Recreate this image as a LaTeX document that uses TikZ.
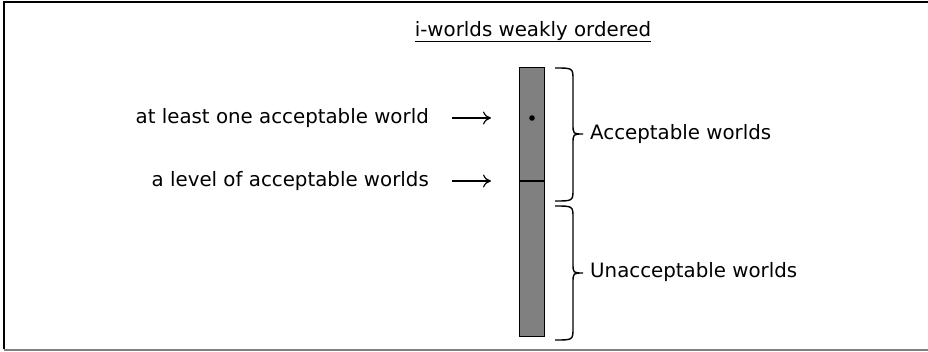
\documentclass[tikz,border=0pt]{standalone}
\usepackage{fontspec}
\setmainfont{DejaVu Sans}
\usetikzlibrary{arrows.meta}
\begin{document}
\begin{tikzpicture}[x=1pt,y=-1pt,
  lbl/.style={font=\fontsize{19.8}{23}\selectfont, inner sep=0pt},
  brc/.style={line width=1.4pt},
  arr/.style={-{To[length=8pt,width=13pt]}, line width=1.2pt}]
\useasboundingbox (0,0) rectangle (928,351);
\draw[line width=1.3pt] (4,349) -- (4,2) -- (928,2);
\draw[line width=2pt, gray] (4,349.5) -- (928,349.5);
\node[lbl, anchor=base] (title) at (533,36) {\underline{i-worlds weakly ordered}};
\node[draw, line width=1.3pt, fill={rgb,255:red,128;green,128;blue,128}, minimum width=25pt, minimum height=269pt, inner sep=0pt, anchor=north west] (bar) at (519,67) {};
\coordinate (dl) at (519,181);
\coordinate (dr) at (544,181);
\draw[line width=1.3pt] (dl) -- (dr);
\fill (532,118) circle (2.8pt) coordinate (dot);
\node[lbl, anchor=east] (t1) at (429,118) {at least one acceptable world};
\node[lbl, anchor=east] (t2) at (429,181) {a level of acceptable worlds};
\coordinate (a1s) at (452,118); \coordinate (a1e) at (491,118);
\coordinate (a2s) at (452,181); \coordinate (a2e) at (491,181);
\draw[arr] (a1s) -- (a1e);
\draw[arr] (a2s) -- (a2e);
\coordinate (b1t) at (555,68); \coordinate (b1b) at (555,201);
\coordinate (b1m) at (583,134);
\coordinate (b2t) at (555,206); \coordinate (b2b) at (555,340);
\coordinate (b2m) at (583,273);
\draw[brc] (b1t) .. controls (573,68) .. (573,80) -- (573,124)
  .. controls (573,134) .. (b1m) .. controls (573,134) .. (573,144)
  -- (573,189) .. controls (573,201) .. (b1b);
\draw[brc] (b2t) .. controls (573,206) .. (573,218) -- (573,263)
  .. controls (573,273) .. (b2m) .. controls (573,273) .. (573,283)
  -- (573,328) .. controls (573,340) .. (b2b);
\node[lbl, anchor=west] (acc) at (590,134) {Acceptable worlds};
\node[lbl, anchor=west] (unacc) at (590,272) {Unacceptable worlds};
\end{tikzpicture}
\end{document}
